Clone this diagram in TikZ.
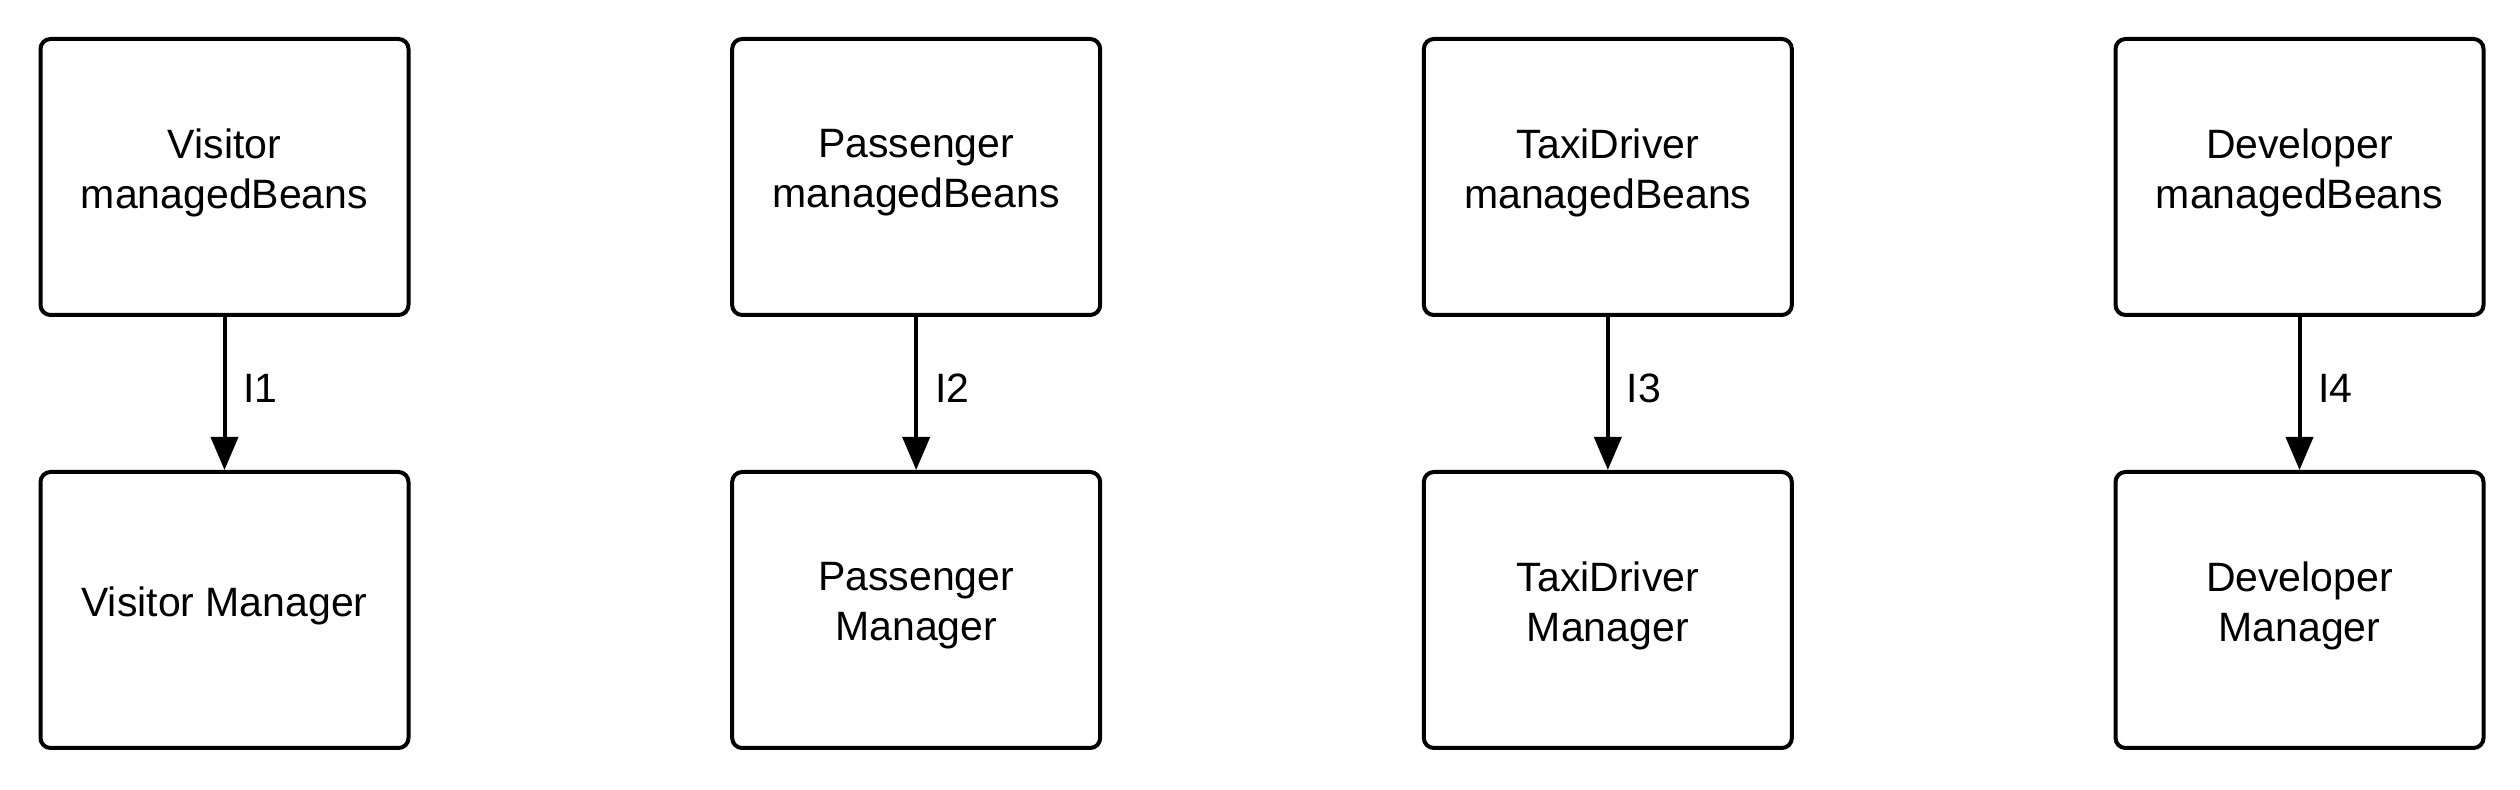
\documentclass[tikz,border=0pt]{standalone}
\usepackage{fontspec}
\setmainfont{Liberation Sans}
\usetikzlibrary{arrows.meta}
\begin{document}
\begin{tikzpicture}[x=1pt,y=1pt,
  box/.style={draw=black,line width=4pt,rounded corners=10pt,minimum width=368pt,minimum height=276pt,align=center,font=\fontsize{41}{50}\selectfont,inner sep=0pt,text depth=17pt},
  conn/.style={line width=4pt,-{Triangle[length=33pt,width=27pt]}},
  lab/.style={anchor=west,inner sep=0pt,xshift=17pt,yshift=5pt,font=\fontsize{41}{50}\selectfont}]
\useasboundingbox (0,0) rectangle (2520,790);
\foreach \i/\top/\bot/\l [count=\k from 0] in {a/{Visitor\\managedBeans}/{Visitor Manager}/I1,
  b/{Passenger\\managedBeans}/{Passenger\\Manager}/I2,
  c/{TaxiDriver\\managedBeans}/{TaxiDriver\\Manager}/I3,
  d/{Developer\\managedBeans}/{Developer\\Manager}/I4}{
  \node[box] (\i t) at ({224.5+691.67*\k},613) {\top};
  \node[box] (\i b) at ({224.5+691.67*\k},180) {\bot};
  \draw[conn] (\i t) -- node[lab] {\l} (\i b);
}
\end{tikzpicture}
\end{document}
